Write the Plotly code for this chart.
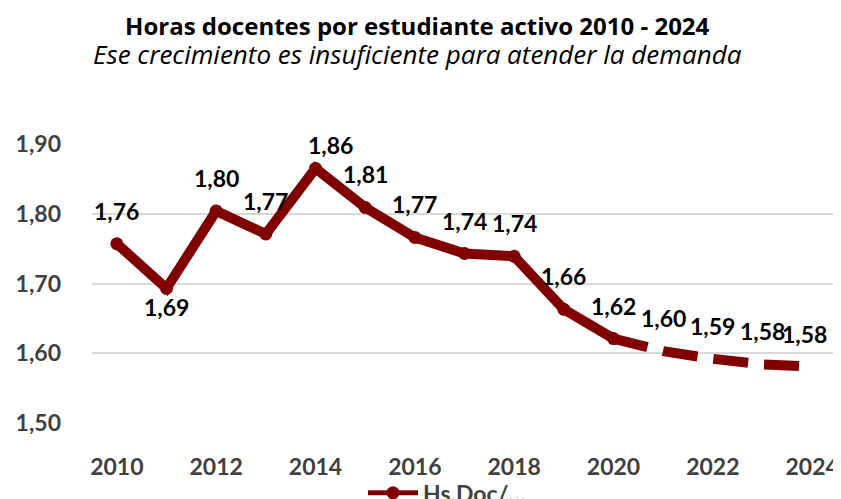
import plotly.graph_objects as go

years = [2010, 2011, 2012, 2013, 2014, 2015, 2016, 2017, 2018, 2019, 2020, 2021, 2022, 2023, 2024]
values = [1.757, 1.693, 1.804, 1.771, 1.865, 1.809, 1.766, 1.743, 1.739, 1.663, 1.621, 1.603, 1.592, 1.584, 1.581]
series_name = "Hs.Doc/…"
title = "Horas docentes por estudiante activo 2010 - 2024"
subtitle = "Ese crecimiento es insuficiente para atender la demanda"
y_ticks = [1.5, 1.6, 1.7, 1.8, 1.9]
x_ticks = [2010, 2012, 2014, 2016, 2018, 2020, 2022, 2024]
split_year = 2020  # solid up to here, dashed afterwards

RED = "#800000"
GREY = "#404040"
FONT = "Lato"

solid_x = [x for x in years if x <= split_year]
solid_y = [v for x, v in zip(years, values) if x <= split_year]
dash_x = [x for x in years if x >= split_year]
dash_y = [v for x, v in zip(years, values) if x >= split_year]

fig = go.Figure()
fig.add_trace(go.Scatter(
    x=solid_x, y=solid_y, mode="lines+markers", name=series_name,
    line=dict(color=RED, width=10), marker=dict(color=RED, size=13),
    showlegend=False, hoverinfo="skip",
))
fig.add_trace(go.Scatter(
    x=dash_x, y=dash_y, mode="lines", name=series_name,
    line=dict(color=RED, width=10, dash="35px,16px"),
    showlegend=False, hoverinfo="skip",
))
# legend entry for the series (thinner line as in the reference legend)
fig.add_trace(go.Scatter(
    x=[None], y=[None], mode="lines+markers", name=series_name,
    line=dict(color=RED, width=5), marker=dict(color=RED, size=13),
    showlegend=True, hoverinfo="skip",
))

# label nudges (styling only)
nudge = {2011: (0, -19), 2014: (15, 23), 2024: (-8, 33)}
for x, v in zip(years, values):
    dx, dy = nudge.get(x, (0, 33))
    fig.add_annotation(
        x=x, y=v, xref="x", yref="y", text=f"{v:.2f}".replace(".", ","),
        showarrow=False, xshift=dx, yshift=dy, yanchor="middle", xanchor="center",
        font=dict(family=FONT, size=23, color="#000000", weight="bold"),
    )

W, H = 833, 491
L, R, T, B = 84, 4, 136, 76.3
H_TOP, H_BOT = T, H - B
def paper_y(px):
    return (H_BOT - px) / (H_BOT - H_TOP)
def paper_x(px):
    return (px - L) / (W - L - R)

fig.add_annotation(
    x=paper_x(409), y=paper_y(33), xref="paper", yref="paper",
    text=(f"<b><span style='font-size:24px'>{title}</span></b><br>"
          f"<i><span style='font-size:26px'>{subtitle}</span></i>"),
    showarrow=False, xanchor="center", yanchor="middle", align="center",
    font=dict(family="Open Sans", size=22, color="#000000"),
)

fig.update_layout(
    width=W, height=H,
    margin=dict(l=L, r=R, t=T, b=B, autoexpand=False),
    paper_bgcolor="white", plot_bgcolor="white",
    separators=",.",
    showlegend=True,
    legend=dict(orientation="h", x=paper_x(355), xanchor="left", y=paper_y(463), yanchor="top",
                itemwidth=50,
                font=dict(family=FONT, size=23, color=GREY, weight="bold"),
                bgcolor="rgba(0,0,0,0)"),
    xaxis=dict(range=[2009.5, 2024.5], tickvals=x_ticks, showgrid=False, zeroline=False,
               showline=False, ticks="", ticklabelstandoff=28,
               tickfont=dict(family=FONT, size=23, color=GREY, weight="bold")),
    yaxis=dict(range=[1.5, 1.9], tickvals=y_ticks, tickformat=".2f", showgrid=True,
               gridcolor="#d9d9d9", gridwidth=2, zeroline=False, showline=False, ticks="",
               ticklabelstandoff=30,
               tickfont=dict(family=FONT, size=23, color=GREY, weight="bold")),
)

fig.write_html("out.html")
